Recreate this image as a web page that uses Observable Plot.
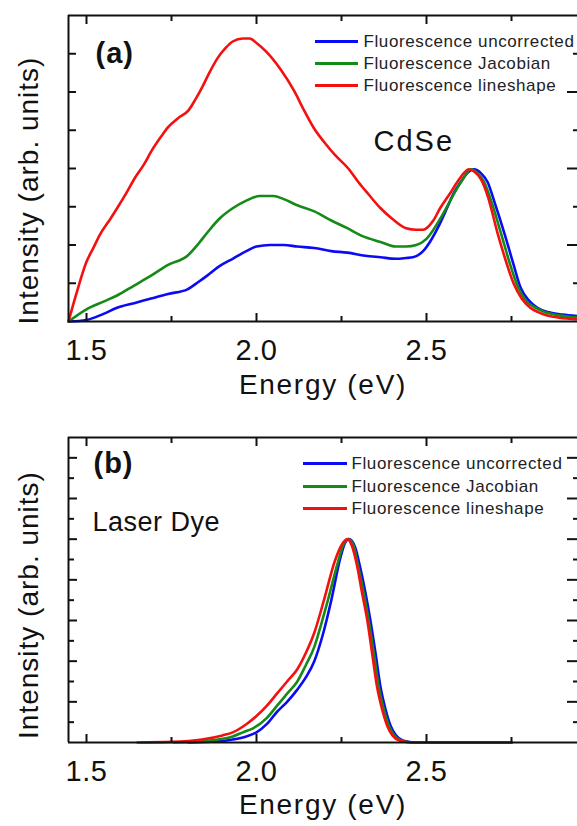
<!DOCTYPE html>
<html><head><meta charset="utf-8">
<script src="https://cdn.jsdelivr.net/npm/d3@7"></script>
<script src="https://cdn.jsdelivr.net/npm/@observablehq/plot@0.6"></script>
<style>
html,body{margin:0;padding:0;background:#fff;overflow:hidden}
#chart svg{display:block}
</style></head><body><div id="chart"></div>
<script>
// ---------- data ----------
const seriesNames = ["Fluorescence uncorrected", "Fluorescence Jacobian", "Fluorescence lineshape"];
const seriesColors = ["#0a0af5", "#168a16", "#f51010"];
const xTickMajor = [1.5, 2.0, 2.5];
const xTickMinor = [1.75, 2.25, 2.75];
const xLabel = "Energy (eV)";
const yLabel = "Intensity (arb. units)";

// Panel (a) CdSe
const aBlueE  = [1.447,1.50,1.55,1.59,1.64,1.69,1.74,1.797,1.83,1.855,1.89,1.93,1.97,2.00,2.04,2.08,2.12,2.17,2.22,2.267,2.32,2.365,2.41,2.44,2.46,2.49,2.51,2.535,2.56,2.58,2.60,2.62,2.64,2.66,2.68,2.70,2.73,2.755,2.777,2.80,2.826,2.86,2.90,2.944];
const aBlueI  = [0,0.01,0.05,0.09,0.12,0.15,0.18,0.21,0.26,0.30,0.36,0.41,0.46,0.49,0.50,0.50,0.49,0.48,0.46,0.45,0.43,0.42,0.41,0.415,0.42,0.46,0.52,0.62,0.74,0.84,0.91,0.97,0.995,0.97,0.91,0.78,0.57,0.38,0.22,0.14,0.09,0.06,0.045,0.035];
const aGreenE = [1.447,1.50,1.55,1.59,1.64,1.69,1.74,1.797,1.83,1.855,1.89,1.93,1.97,2.01,2.05,2.08,2.12,2.17,2.22,2.267,2.31,2.365,2.41,2.44,2.47,2.50,2.54,2.57,2.59,2.61,2.63,2.65,2.67,2.69,2.72,2.745,2.77,2.795,2.82,2.85,2.89,2.944];
const aGreenI = [0,0.08,0.13,0.17,0.235,0.30,0.37,0.43,0.51,0.58,0.67,0.74,0.79,0.82,0.82,0.80,0.76,0.72,0.66,0.61,0.56,0.52,0.49,0.49,0.50,0.54,0.67,0.79,0.87,0.94,0.995,0.97,0.91,0.79,0.57,0.38,0.22,0.13,0.09,0.06,0.04,0.025];
const aRedE   = [1.447,1.47,1.50,1.52,1.54,1.57,1.59,1.62,1.64,1.67,1.69,1.72,1.74,1.77,1.80,1.82,1.84,1.86,1.885,1.91,1.93,1.96,1.98,2.00,2.03,2.07,2.11,2.14,2.17,2.20,2.23,2.27,2.30,2.33,2.365,2.40,2.44,2.47,2.49,2.52,2.54,2.57,2.59,2.61,2.624,2.64,2.66,2.68,2.71,2.73,2.756,2.78,2.805,2.83,2.855,2.89,2.944];
const aRedI   = [0,0.18,0.39,0.48,0.57,0.67,0.74,0.85,0.93,1.03,1.11,1.21,1.27,1.33,1.38,1.45,1.53,1.62,1.72,1.79,1.83,1.85,1.85,1.82,1.76,1.65,1.51,1.38,1.26,1.17,1.09,1.00,0.91,0.83,0.74,0.67,0.61,0.60,0.60,0.66,0.74,0.84,0.91,0.97,0.995,0.98,0.93,0.82,0.57,0.42,0.25,0.15,0.09,0.06,0.04,0.025,0.015];

// Panel (b) Laser Dye
const bBlueE  = [1.80,1.88,1.93,1.97,2.00,2.03,2.06,2.09,2.12,2.145,2.17,2.195,2.22,2.247,2.26,2.272,2.29,2.305,2.32,2.335,2.35,2.365,2.38,2.395,2.41,2.43,2.47,2.75];
const bBlueI  = [0,0.005,0.015,0.03,0.05,0.09,0.15,0.20,0.26,0.32,0.40,0.53,0.70,0.91,0.98,1.0,0.96,0.86,0.74,0.60,0.44,0.27,0.16,0.08,0.035,0.01,0,0];
const bGreenE = [1.757,1.85,1.93,1.96,1.99,2.03,2.06,2.09,2.12,2.145,2.17,2.19,2.21,2.24,2.255,2.27,2.285,2.30,2.315,2.33,2.345,2.36,2.375,2.39,2.405,2.425,2.46,2.75];
const bGreenI = [0,0.008,0.03,0.05,0.07,0.12,0.18,0.24,0.30,0.38,0.47,0.58,0.70,0.89,0.97,1.0,0.97,0.86,0.74,0.60,0.44,0.27,0.16,0.08,0.035,0.01,0,0];
const bRedE   = [1.65,1.75,1.84,1.90,1.93,1.97,2.00,2.03,2.06,2.09,2.12,2.145,2.17,2.20,2.23,2.25,2.267,2.28,2.297,2.31,2.326,2.34,2.355,2.37,2.385,2.40,2.42,2.46,2.75];
const bRedI   = [0,0.003,0.015,0.035,0.05,0.09,0.13,0.18,0.24,0.30,0.36,0.44,0.54,0.71,0.89,0.97,1.0,0.97,0.86,0.74,0.60,0.44,0.27,0.16,0.08,0.035,0.01,0,0];

// ---------- layout ----------
const W = 577, ML = 68;
const xDomain = [1.5 - 18 / 340, 1.5 + 491 / 340];
const FONT = "Liberation Sans, Arial, Helvetica, sans-serif";

function makePanel(cfg) {
  const [y0, y1] = cfg.yDomain;
  const ys = d3.scaleLinear().domain(cfg.yDomain).range([cfg.frameBottom, cfg.frameTop]);
  const xs = d3.scaleLinear().domain(xDomain).range([ML, W]);
  const pyLen = px => (y1 - y0) * px / (cfg.frameBottom - cfg.frameTop);
  const pxLen = px => (xDomain[1] - xDomain[0]) * px / (W - ML);
  const rows = [];
  cfg.series.forEach((s, i) => s.E.forEach((e, j) => rows.push({E: e, I: s.I[j], k: seriesNames[i]})));
  const legend = seriesNames.map((k, i) => ({k, y: ys.invert(cfg.legendRows[i])}));
  const ink = "#111";
  const marks = [
    Plot.line(rows, {x: "E", y: "I", z: "k", stroke: "k", strokeWidth: 2.6, curve: "monotone-x"}),
    // frame
    Plot.ruleX([xDomain[0]], {stroke: ink, strokeWidth: 2}),
    Plot.ruleY([y0, y1], {stroke: ink, strokeWidth: 2}),
    // x ticks (inward) bottom & top
    Plot.ruleX(xTickMajor, {y1: y0, y2: y0 + pyLen(8), stroke: ink, strokeWidth: 2}),
    Plot.ruleX(xTickMinor, {y1: y0, y2: y0 + pyLen(5), stroke: ink, strokeWidth: 2}),
    Plot.ruleX(xTickMajor, {y1: y1, y2: y1 - pyLen(9), stroke: ink, strokeWidth: 2}),
    Plot.ruleX(xTickMinor, {y1: y1, y2: y1 - pyLen(6), stroke: ink, strokeWidth: 2}),
    // y ticks left
    Plot.ruleY(cfg.yMajor, {x1: xDomain[0], x2: xDomain[0] + pxLen(cfg.leftMajorLen), stroke: ink, strokeWidth: 2}),
    Plot.ruleY(cfg.yMinor, {x1: xDomain[0], x2: xDomain[0] + pxLen(cfg.leftMinorLen), stroke: ink, strokeWidth: 2}),
    // y ticks right
    Plot.ruleY(cfg.yMajor, {x1: xDomain[1], x2: xDomain[1] - pxLen(10), stroke: ink, strokeWidth: 2}),
    Plot.ruleY(cfg.yMinor, {x1: xDomain[1], x2: xDomain[1] - pxLen(4), stroke: ink, strokeWidth: 2}),
    // tick labels
    Plot.text(xTickMajor, {x: d => d, y: y0, dy: 38, text: d => d.toFixed(1), lineAnchor: "bottom", fontSize: 29, fill: ink}),
    // axis labels
    Plot.text([xLabel], {frameAnchor: "bottom", dy: cfg.xLabelDy, text: d => d, textAnchor: "middle", lineAnchor: "bottom", fontSize: 28, fill: ink}),
    Plot.text([yLabel], {frameAnchor: "left", dx: -31, dy: cfg.yLabelDy, rotate: -90, text: d => d, textAnchor: "middle", lineAnchor: "bottom", fontSize: 28, fill: ink}),
    // panel tag
    Plot.text([cfg.tag], {x: xs.invert(cfg.tagPos[0]), y: ys.invert(cfg.tagPos[1]), text: d => d, textAnchor: "start", lineAnchor: "bottom", fontSize: 29, fontWeight: "bold", fill: ink}),
    Plot.text([cfg.note], {x: xs.invert(cfg.notePos[0]), y: ys.invert(cfg.notePos[1]), text: d => d, textAnchor: "start", lineAnchor: "bottom", fontSize: cfg.noteSize, fill: ink}),
    // legend
    Plot.ruleY(legend, {y: "y", x1: xs.invert(cfg.legendX[0]), x2: xs.invert(cfg.legendX[1]), stroke: "k", strokeWidth: 3}),
    Plot.text(legend, {y: "y", x: xs.invert(cfg.legendX[2]), text: "k", textAnchor: "start", fontSize: 17, fill: "#222"})
  ];
  const svg = Plot.plot({
    width: W, height: cfg.height,
    marginLeft: ML, marginRight: 0, marginTop: cfg.frameTop, marginBottom: cfg.height - cfg.frameBottom,
    style: {fontFamily: FONT, background: "#fff", overflow: "hidden"},
    x: {domain: xDomain, axis: null},
    y: {domain: cfg.yDomain, axis: null},
    color: {domain: seriesNames, range: seriesColors},
    marks
  });
  // letter spacing to match the wider lettering of the original
  const spacing = new Map([[xLabel, "1.7px"], [yLabel, "1px"], [cfg.note, cfg.noteSpacing], [cfg.tag, "1px"],
    ...seriesNames.map(n => [n, "0.6px"])]);
  d3.select(svg).selectAll("text").each(function () {
    const s = spacing.get(this.textContent);
    if (s) this.style.letterSpacing = s;
    else if (/^\d\.\d$/.test(this.textContent)) this.style.letterSpacing = "0.5px";
  });
  return svg;
}

const panelA = makePanel({
  height: 415, frameTop: 15, frameBottom: 321, yDomain: [0, 2],
  series: [{E: aBlueE, I: aBlueI}, {E: aGreenE, I: aGreenI}, {E: aRedE, I: aRedI}],
  yMajor: [0.5, 1.0, 1.5], yMinor: [0.25, 0.75, 1.25, 1.75],
  leftMajorLen: 8, leftMinorLen: 8,
  xLabelDy: 72, yLabelDy: 22,
  tag: "(a)", tagPos: [95, 62], note: "CdSe", notePos: [373, 150], noteSize: 29, noteSpacing: "2px",
  legendRows: [41, 63, 85], legendX: [315, 358, 363]
});
const panelB = makePanel({
  height: 411, frameTop: 22, frameBottom: 327, yDomain: [0, 1.5],
  series: [{E: bBlueE, I: bBlueI}, {E: bGreenE, I: bGreenI}, {E: bRedE, I: bRedI}],
  yMajor: [0.2, 0.4, 0.6, 0.8, 1.0, 1.2, 1.4], yMinor: [0.1, 0.3, 0.5, 0.7, 0.9, 1.1, 1.3],
  leftMajorLen: 9, leftMinorLen: 6,
  xLabelDy: 71, yLabelDy: 15,
  tag: "(b)", tagPos: [93, 57], note: "Laser Dye", notePos: [92, 115], noteSize: 27, noteSpacing: "0.5px",
  legendRows: [48, 71, 93], legendX: [303, 347, 351]
});
const root = document.getElementById("chart");
root.append(panelA, panelB);
</script></body></html>
